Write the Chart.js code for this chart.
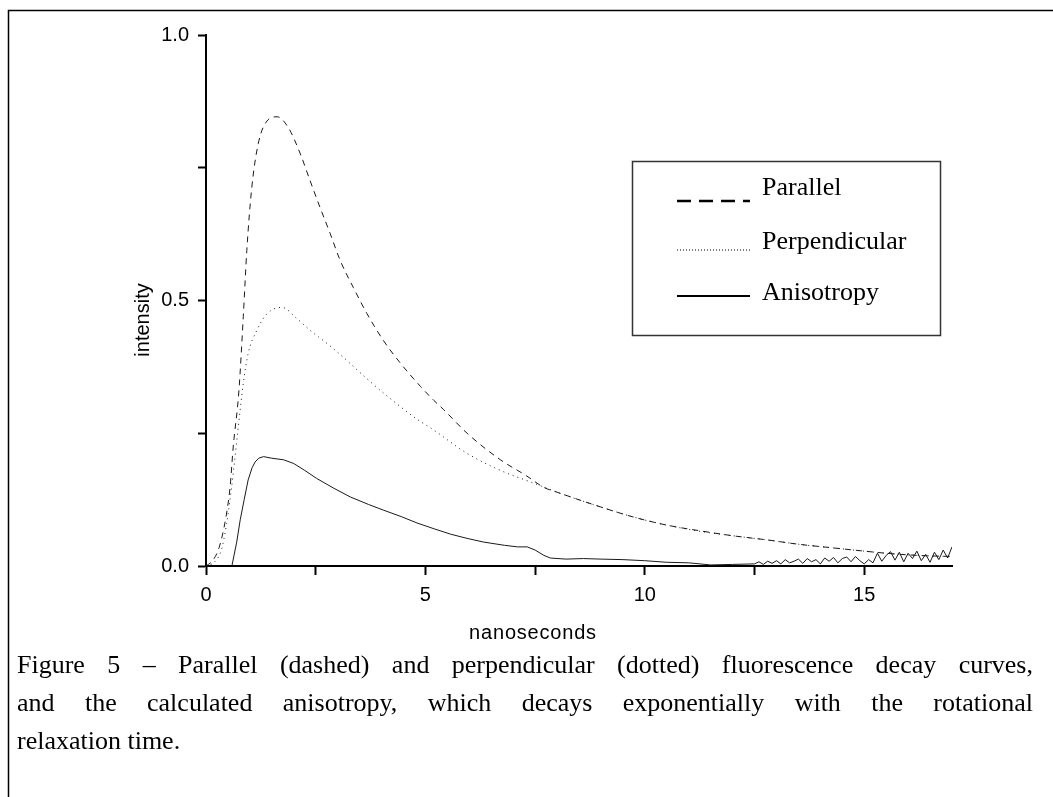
<!DOCTYPE html>
<html>
<head>
<meta charset="utf-8">
<script src="https://cdn.jsdelivr.net/npm/chart.js@4.4.1/dist/chart.umd.min.js"></script>
<style>
  html, body { margin: 0; padding: 0; background: #fff; }
  #wrap { position: relative; width: 1053px; height: 797px; overflow: hidden; background: #fff; }
  #chart { position: absolute; left: 0; top: 0; }
  #caption {
    position: absolute; left: 17px; top: 646px; width: 1016px;
    font-family: "Liberation Serif", "Times New Roman", serif;
    font-size: 26px; line-height: 38px; color: #000;
  }
  #caption .j { display: block; text-align: justify; text-align-last: justify; white-space: nowrap; }
  #caption .l { display: block; text-align: left; }
</style>
</head>
<body>
<div id="wrap">
  <canvas id="chart" width="1053" height="797"></canvas>
  <div id="caption">
    <span class="j">Figure 5 – Parallel (dashed) and perpendicular (dotted) fluorescence decay curves,</span>
    <span class="j">and the calculated anisotropy, which decays exponentially with the rotational</span>
    <span class="l">relaxation time.</span>
  </div>
</div>
<script>
// ---- data ----
const seriesNames = ['Parallel', 'Perpendicular', 'Anisotropy'];
const xTitle = 'nanoseconds';
const yTitle = 'intensity';

const parallelTime = [0, 0.15, 0.3, 0.45, 0.55, 0.62, 0.75, 0.85, 0.93, 1.04, 1.19, 1.39, 1.62, 1.88, 2.15, 2.37, 2.6, 2.83, 3.06, 3.36, 3.67, 4.04, 4.43, 4.89, 5.19, 5.41, 5.95, 6.71, 7.3, 7.7, 8.0, 9.0, 9.75, 10.5, 11.28, 12.0, 12.8, 13.5, 14.3, 15.0, 15.5, 16.0, 16.5, 17.0];
const parallelValues = [0, 0.01, 0.035, 0.09, 0.15, 0.224, 0.33, 0.47, 0.594, 0.71, 0.795, 0.838, 0.846, 0.825, 0.776, 0.726, 0.675, 0.626, 0.575, 0.524, 0.475, 0.425, 0.382, 0.338, 0.312, 0.295, 0.25, 0.2, 0.17, 0.148, 0.139, 0.111, 0.092, 0.077, 0.066, 0.057, 0.049, 0.041, 0.034, 0.028, 0.024, 0.021, 0.019, 0.018];

const perpendicularTime = [0, 0.2, 0.35, 0.47, 0.6, 0.72, 0.85, 0.96, 1.16, 1.39, 1.73, 2.07, 2.37, 2.76, 3.13, 3.58, 3.97, 4.43, 4.8, 5.19, 5.95, 6.71, 7.47, 8.0, 9.0, 9.75, 10.5, 11.28, 12.0, 12.8, 13.5, 14.3, 15.0, 15.5, 16.0, 16.5, 17.0];
const perpendicularValues = [0, 0.008, 0.03, 0.08, 0.16, 0.25, 0.344, 0.4, 0.444, 0.475, 0.487, 0.466, 0.444, 0.419, 0.393, 0.359, 0.331, 0.300, 0.277, 0.256, 0.212, 0.18, 0.156, 0.139, 0.111, 0.092, 0.077, 0.065, 0.057, 0.049, 0.041, 0.034, 0.028, 0.024, 0.021, 0.019, 0.018];

const anisotropyTime = [0.59, 0.7, 0.78, 0.87, 0.96, 1.05, 1.12, 1.2, 1.31, 1.5, 1.77, 2.0, 2.25, 2.52, 2.9, 3.29, 3.7, 4.05, 4.45, 4.81, 5.2, 5.57, 5.95, 6.33, 6.8, 7.1, 7.32, 7.5, 7.7, 7.85, 8.2, 8.6, 9.0, 9.5, 10.0, 10.5, 11.0, 11.5, 12.0,
  12.5, 12.6, 12.7, 12.8, 12.9, 13.0, 13.1, 13.2, 13.3, 13.4, 13.5, 13.6, 13.7, 13.8, 13.9, 14.0, 14.1, 14.2, 14.3, 14.4, 14.5, 14.6, 14.7, 14.8, 14.9,
  15.0, 15.1, 15.2, 15.3, 15.4, 15.5, 15.6, 15.7, 15.8, 15.9, 16.0, 16.1, 16.2, 16.3, 16.4, 16.5, 16.6, 16.7, 16.8, 16.9, 17.0];
const anisotropyValues = [0, 0.045, 0.087, 0.125, 0.162, 0.185, 0.196, 0.203, 0.206, 0.203, 0.2, 0.193, 0.18, 0.165, 0.147, 0.13, 0.116, 0.105, 0.093, 0.081, 0.07, 0.06, 0.052, 0.045, 0.039, 0.036, 0.036, 0.03, 0.02, 0.015, 0.013, 0.014, 0.013, 0.012, 0.01, 0.007, 0.006, 0.002, 0.003,
  0.004, 0.008, 0.003, 0.009, 0.005, 0.01, 0.004, 0.012, 0.006, 0.009, 0.013, 0.005, 0.014, 0.008, 0.012, 0.004, 0.015, 0.009, 0.016, 0.006, 0.014, 0.017, 0.008, 0.018, 0.01,
  0.004, 0.012, 0.006, 0.024, 0.009, 0.02, 0.027, 0.011, 0.026, 0.008, 0.024, 0.014, 0.028, 0.01, 0.022, 0.007, 0.026, 0.012, 0.03, 0.015, 0.036];

const xTickValues = [0, 5, 10, 15];
const yTickValues = [0, 0.5, 1.0];

// ---- helpers ----
function zip(xs, ys) { return xs.map((x, i) => ({ x: x, y: ys[i] })); }
const INK = '#1a1a1a';
const SANS = '"Liberation Sans", Arial, sans-serif';
const SERIF = '"Liberation Serif", "Times New Roman", serif';

const legendStyles = [
  { dash: [14, 8], width: 2.5 },
  { dash: [1, 2], width: 1 },
  { dash: [], width: 2 }
];

const decorPlugin = {
  id: 'decor',
  beforeDraw(chart) {
    const ctx = chart.ctx;
    ctx.save();
    ctx.strokeStyle = '#000';
    ctx.lineWidth = 1.5;
    ctx.beginPath();
    ctx.moveTo(8.5, 797);
    ctx.lineTo(8.5, 10.5);
    ctx.lineTo(1053, 10.5);
    ctx.stroke();
    ctx.restore();
  },
  afterDraw(chart) {
    const ctx = chart.ctx;
    ctx.save();
    ctx.fillStyle = '#000';
    // axis titles
    ctx.font = '20px ' + SANS;
    ctx.textAlign = 'center';
    ctx.textBaseline = 'middle';
    try { ctx.letterSpacing = '0.8px'; } catch (e) {}
    ctx.fillText(xTitle, 533, 633);
    try { ctx.letterSpacing = '0px'; } catch (e) {}
    ctx.save();
    ctx.translate(143, 320);
    ctx.rotate(-Math.PI / 2);
    ctx.fillText(yTitle, 0, 0);
    ctx.restore();

    // legend box
    ctx.strokeStyle = '#333';
    ctx.lineWidth = 1.5;
    ctx.strokeRect(632.5, 161.5, 308, 174);
    const textYs = [188, 242, 293];
    const lineYs = [201, 250, 296];
    chart.data.datasets.forEach((ds, i) => {
      const st = legendStyles[i];
      ctx.save();
      ctx.strokeStyle = '#000';
      ctx.lineWidth = st.width;
      ctx.setLineDash(st.dash);
      ctx.beginPath();
      ctx.moveTo(677, lineYs[i]);
      ctx.lineTo(750, lineYs[i]);
      ctx.stroke();
      ctx.restore();
      ctx.font = '26px ' + SERIF;
      ctx.textAlign = 'left';
      ctx.textBaseline = 'middle';
      ctx.fillStyle = '#000';
      ctx.fillText(ds.label, 762, textYs[i]);
    });
    ctx.restore();
  }
};

function keepEvery(step) {
  return function (scale) {
    scale.ticks = scale.ticks.filter(t => Math.abs(t.value / step - Math.round(t.value / step)) < 1e-6);
  };
}

new Chart(document.getElementById('chart'), {
  type: 'line',
  data: {
    datasets: [
      { label: seriesNames[0], data: zip(parallelTime, parallelValues), borderColor: INK, borderWidth: 1, borderDash: [6, 5], pointRadius: 0, cubicInterpolationMode: 'monotone', fill: false },
      { label: seriesNames[1], data: zip(perpendicularTime, perpendicularValues), borderColor: INK, borderWidth: 1, borderDash: [1, 4], pointRadius: 0, cubicInterpolationMode: 'monotone', fill: false },
      { label: seriesNames[2], data: zip(anisotropyTime, anisotropyValues), borderColor: INK, borderWidth: 1, borderDash: [], pointRadius: 0, tension: 0, fill: false }
    ]
  },
  options: {
    responsive: false,
    animation: false,
    devicePixelRatio: 1,
    layout: { padding: { left: 0, top: 35, right: 101, bottom: 0 } },
    plugins: { legend: { display: false }, tooltip: { enabled: false }, title: { display: false } },
    scales: {
      x: {
        type: 'linear', position: 'bottom', min: 0, max: 17,
        border: { display: true, color: '#000', width: 2 },
        grid: { display: true, drawOnChartArea: false, drawTicks: true, tickLength: 9, tickColor: '#000', tickWidth: 2 },
        ticks: {
          stepSize: 2.5, autoSkip: false, maxRotation: 0, color: '#000', padding: 8,
          font: { family: SANS, size: 20 },
          callback: v => xTickValues.includes(v) ? String(v) : ''
        },
        afterBuildTicks: keepEvery(2.5),
        afterFit: s => { s.height = 231; }
      },
      y: {
        type: 'linear', position: 'left', min: 0, max: 1,
        border: { display: true, color: '#000', width: 2 },
        grid: { display: true, drawOnChartArea: false, drawTicks: true, tickLength: 8, tickColor: '#000', tickWidth: 2 },
        ticks: {
          stepSize: 0.25, autoSkip: false, color: '#000', padding: 9,
          font: { family: SANS, size: 20 },
          callback: v => yTickValues.some(t => Math.abs(t - v) < 1e-9) ? v.toFixed(1) : ''
        },
        afterBuildTicks: keepEvery(0.25),
        afterFit: s => { s.width = 206; }
      }
    }
  },
  plugins: [decorPlugin]
});
</script>
</body>
</html>
